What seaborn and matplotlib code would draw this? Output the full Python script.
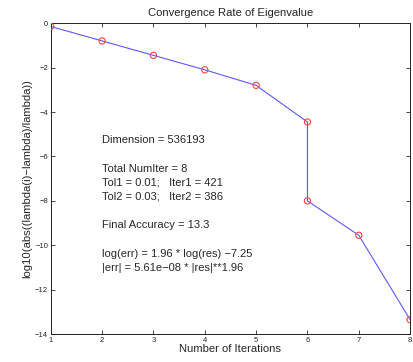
import matplotlib
matplotlib.use("Agg")
import matplotlib.pyplot as plt
import seaborn as sns
import pandas as pd

iterations = [1, 2, 3, 4, 5, 6, 6, 7, 8]
log_err = [-0.15, -0.8, -1.45, -2.1, -2.8, -4.45, -8.0, -9.55, -13.35]
x_ticks = [1, 2, 3, 4, 5, 6, 7, 8]
y_ticks = [0, -2, -4, -6, -8, -10, -12, -14]
info_lines = [
    "Dimension = 536193",
    "",
    "Total NumIter = 8",
    "Tol1 = 0.01;   Iter1 = 421",
    "Tol2 = 0.03;   Iter2 = 386",
    "",
    "Final Accuracy = 13.3",
    "",
    "log(err) = 1.96 * log(res) \u22127.25",
    "|err| = 5.61e\u221208 * |res|**1.96",
]

sns.set_style("white")
plt.rcParams["font.family"] = ["Liberation Sans", "DejaVu Sans"]

df = pd.DataFrame({"iter": iterations, "err": log_err})

fig = plt.figure(figsize=(4.13, 3.62), dpi=100)
ax = fig.add_axes([0.123, 0.077, 0.87, 0.859])

sns.lineplot(data=df, x="iter", y="err", estimator=None, sort=False,
             color="#5a5aff", linewidth=0.8, ax=ax)
sns.scatterplot(data=df, x="iter", y="err", marker="o", s=20,
                facecolor="none", edgecolor="#ff4040", linewidth=0.8, ax=ax, zorder=3)

ax.set_xlim(1, 8)
ax.set_ylim(-14, 0)
ax.set_xticks(x_ticks)
ax.set_yticks(y_ticks)
ax.set_xticklabels([str(v) for v in x_ticks])
ax.set_yticklabels([str(v).replace("-", "\u2212") for v in y_ticks])
ax.tick_params(direction="in", length=3, width=0.6, labelsize=5.5,
               top=True, right=True, bottom=True, left=True, pad=2)
for s in ax.spines.values():
    s.set_linewidth(0.7)
    s.set_color("#222222")

ax.set_title("Convergence Rate of Eigenvalue", fontsize=8.1, pad=5)
ax.set_xlabel("Number of Iterations", fontsize=8.1, labelpad=0)
ax.set_ylabel("log10(abs((lambda(i)\u2212lambda)/lambda))", fontsize=8.1, labelpad=2)

ax.text(2.0, -5.05, "\n".join(info_lines), fontsize=8.0, va="top", ha="left",
        linespacing=1.52)

fig.savefig("out.png", dpi=100)
